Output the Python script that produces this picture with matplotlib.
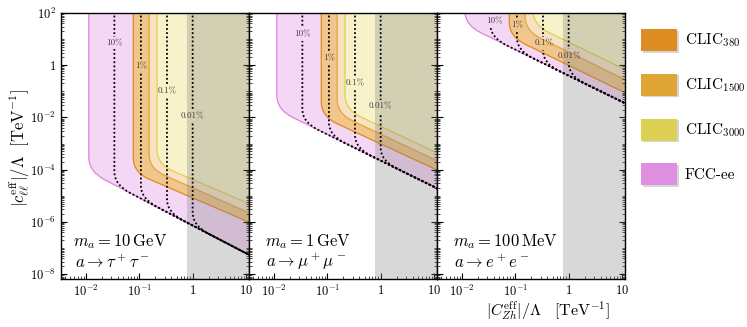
import numpy as np
import matplotlib
matplotlib.use("Agg")
import matplotlib.pyplot as plt
from matplotlib.path import Path
from matplotlib.patches import PathPatch, Patch
from matplotlib import transforms
import matplotlib.patheffects as pe
from matplotlib.ticker import FixedLocator, FixedFormatter, LogLocator, NullFormatter

plt.rcParams['mathtext.fontset'] = 'cm'
plt.rcParams['font.family'] = 'cmr10'
plt.rcParams['axes.unicode_minus'] = False

# ---------------- data ----------------
mass_labels = [r'$m_a = 10\,\mathrm{GeV}$', r'$m_a = 1\,\mathrm{GeV}$', r'$m_a = 100\,\mathrm{MeV}$']
channel_labels = [r'$a \to \tau^+\tau^-$', r'$a \to \mu^+\mu^-$', r'$a \to e^+e^-$']

colliders = ['FCC-ee', 'CLIC380', 'CLIC1500', 'CLIC3000']
legend_order = ['CLIC380', 'CLIC1500', 'CLIC3000', 'FCC-ee']
legend_texts = [r'CLIC$_{380}$', r'CLIC$_{1500}$', r'CLIC$_{3000}$', 'FCC-ee']

# production-limited edge (|C_Zh|/Lambda) of each reach region
edge_x = [0.0113, 0.077, 0.153, 0.215]
# |c_ll|/Lambda at the edge (knee) and at |C_Zh|/Lambda = 10, per panel
knee_10gev = [8.5e-5, 7.9e-5, 1.1e-4, 1.6e-4]
y10_10gev = [6.3e-8, 1.1e-6, 2.5e-6, 5.6e-6]
knee_1gev = [2.0e-2, 1.1e-2, 1.4e-2, 2.0e-2]
y10_1gev = [2.2e-5, 1.1e-4, 2.5e-4, 5.0e-4]
knee_100mev = [35.0, 12.6, 21.0, 35.0]
y10_100mev = [0.04, 0.1, 0.32, 0.78]

# branching-ratio contours
br_x = [0.034, 0.107, 0.33, 1.0]
br_labels = ['10%', '1%', '0.1%', '0.01%']
br_label_x_10gev = [0.034, 0.107, 0.33, 1.0]
br_label_y_10gev = [7.0, 0.9, 0.1, 0.011]
br_label_x_1gev = [0.034, 0.107, 0.33, 1.0]
br_label_y_1gev = [15.0, 1.9, 0.21, 0.026]
br_label_x_100mev = [0.04, 0.107, 0.35, 1.05]
br_label_y_100mev = [47.0, 35.0, 6.8, 2.3]

decay_cut_x = 0.78

xticks = [1e-2, 1e-1, 1, 10]
xtick_labels = [r'$10^{-2}$', r'$10^{-1}$', r'$1$', r'$10$']
yticks = [1e-8, 1e-6, 1e-4, 1e-2, 1, 1e2]
ytick_labels = [r'$10^{-8}$', r'$10^{-6}$', r'$10^{-4}$', r'$10^{-2}$', r'$1$', r'$10^{2}$']

# ---------------- style ----------------
fill_colors = {'FCC-ee': '#f4d7f4', 'CLIC380': '#f1c68c', 'CLIC1500': '#f7e3c4', 'CLIC3000': '#f7f2ca'}
edge_colors = {'FCC-ee': '#e07fe0', 'CLIC380': '#e08a1e', 'CLIC1500': '#e4a63c', 'CLIC3000': '#e0d050'}
legend_colors = {'CLIC380': '#df8c22', 'CLIC1500': '#dfa535', 'CLIC3000': '#ddd052', 'FCC-ee': '#df8fdf'}

TOP = 1e4
XR = 100.0


def contour_path(xe, knee, y10, cv, ch, closed):
    lx, lk, l10 = np.log10([xe, knee, y10])
    s = (l10 - lk) / (1.0 - lx)
    verts = [(xe, TOP), (xe, 10 ** (lk + cv)), (xe, knee),
             (10 ** (lx + ch), 10 ** (lk + s * ch)),
             (XR, 10 ** (lk + s * (np.log10(XR) - lx)))]
    codes = [Path.MOVETO, Path.LINETO, Path.CURVE3, Path.CURVE3, Path.LINETO]
    if closed:
        verts += [(XR, TOP), (xe, TOP)]
        codes += [Path.LINETO, Path.CLOSEPOLY]
    return Path(verts, codes)


fig, axes = plt.subplots(1, 3, figsize=(7.47, 3.27), dpi=100, sharey=True)
fig.subplots_adjust(left=0.0817, right=0.8367, bottom=0.1468, top=0.9602, wspace=0)

panels = [
    (knee_10gev, y10_10gev, br_label_x_10gev, br_label_y_10gev),
    (knee_1gev, y10_1gev, br_label_x_1gev, br_label_y_1gev),
    (knee_100mev, y10_100mev, br_label_x_100mev, br_label_y_100mev),
]

clip_jobs = []
for i, (ax, (knees, y10s, lbx, lby)) in enumerate(zip(axes, panels)):
    ax.set_xscale('log')
    ax.set_yscale('log')
    for j, name in enumerate(colliders):
        p = contour_path(edge_x[j], knees[j], y10s[j], 0.55, 0.3, True)
        ax.add_patch(PathPatch(p, facecolor=fill_colors[name], edgecolor=edge_colors[name],
                               lw=0.9, zorder=1 + 0.1 * j))
    ax.axvspan(decay_cut_x, 100, color='#808080', alpha=0.3, lw=0, zorder=2)
    # BR contours follow the FCC-ee long-lifetime edge
    lx0, lk0, l100 = np.log10([edge_x[0], knees[0], y10s[0]])
    s0 = (l100 - lk0) / (1.0 - lx0)
    for k, xd in enumerate(br_x):
        kd = 10 ** (lk0 + s0 * (np.log10(xd) - lx0))
        p = contour_path(xd, kd, 10 ** (lk0 + s0 * (1.0 - lx0)), 0.5, 0.3, False)
        line = PathPatch(p, fill=False, edgecolor='black', lw=1.3, linestyle=(0, (1, 1.3)), zorder=3)
        ax.add_patch(line)
        t = ax.text(lbx[k], lby[k], br_labels[k], fontsize=6.5, color='#404040',
                    ha='center', va='center', zorder=4)
        clip_jobs.append((line, t))
    ax.text(0.066 if i == 0 else 0.085, 0.14, mass_labels[i], transform=ax.transAxes,
            fontsize=12, va='center', ha='left')
    ax.text(0.072 if i == 0 else 0.092, 0.065, channel_labels[i], transform=ax.transAxes,
            fontsize=12, va='center', ha='left')

    ax.set_xlim(3.4e-3, 11.4)
    ax.set_ylim(6.5e-9, 100)
    ax.xaxis.set_major_locator(FixedLocator(xticks))
    ax.xaxis.set_major_formatter(FixedFormatter(xtick_labels))
    ax.xaxis.set_minor_locator(LogLocator(base=10, subs=np.arange(2, 10), numticks=100))
    ax.xaxis.set_minor_formatter(NullFormatter())
    ax.yaxis.set_major_locator(FixedLocator(yticks))
    ax.yaxis.set_major_formatter(FixedFormatter(ytick_labels))
    ax.yaxis.set_minor_locator(LogLocator(base=10, subs=np.arange(1, 10), numticks=100))
    ax.yaxis.set_minor_formatter(NullFormatter())
    ax.tick_params(which='both', direction='in', left=True, right=True, top=False, bottom=True,
                   labelsize=9)
    ax.tick_params(which='major', length=4, width=0.8)
    ax.tick_params(which='minor', length=2.2, width=0.5)
    if i > 0:
        ax.tick_params(labelleft=False)
    for sp in ax.spines.values():
        sp.set_linewidth(1.0)

fig.text(20 / 747, 1 - 148 / 327, r'$|c_{\ell\ell}^{\mathrm{eff}}|/\Lambda\ \ [\mathrm{TeV}^{-1}]$',
         rotation=90, ha='center', va='center', fontsize=12)
fig.text(548 / 747, 1 - 311 / 327, r'$|C_{Zh}^{\mathrm{eff}}|/\Lambda\quad [\mathrm{TeV}^{-1}]$',
         ha='center', va='center', fontsize=11.5)

handles = [Patch(facecolor=legend_colors[n], edgecolor='none') for n in legend_order]
leg = fig.legend(handles, legend_texts, loc='upper left', bbox_to_anchor=(641 / 747, 1 - 29 / 327),
                 frameon=False, borderpad=0, borderaxespad=0, handlelength=2.35, handleheight=1.83,
                 labelspacing=1.5, handletextpad=0.5, fontsize=11)
for hp in leg.get_patches():
    hp.set_path_effects([pe.SimplePatchShadow(offset=(1.2, -1.2), shadow_rgbFace='#888888', alpha=0.35),
                         pe.Normal()])

# break the dotted contours where their labels sit
fig.canvas.draw()
renderer = fig.canvas.get_renderer()
W, H = fig.bbox.width, fig.bbox.height
for line, t in clip_jobs:
    bb = t.get_window_extent(renderer).expanded(1.15, 1.5)
    outer = [(-10, -10), (W + 10, -10), (W + 10, H + 10), (-10, H + 10), (-10, -10)]
    inner = [(bb.x0, bb.y0), (bb.x0, bb.y1), (bb.x1, bb.y1), (bb.x1, bb.y0), (bb.x0, bb.y0)]
    codes = [Path.MOVETO, Path.LINETO, Path.LINETO, Path.LINETO, Path.CLOSEPOLY] * 2
    line.set_clip_path(Path(outer + inner, codes), transforms.IdentityTransform())

fig.savefig('out.png', dpi=100)
